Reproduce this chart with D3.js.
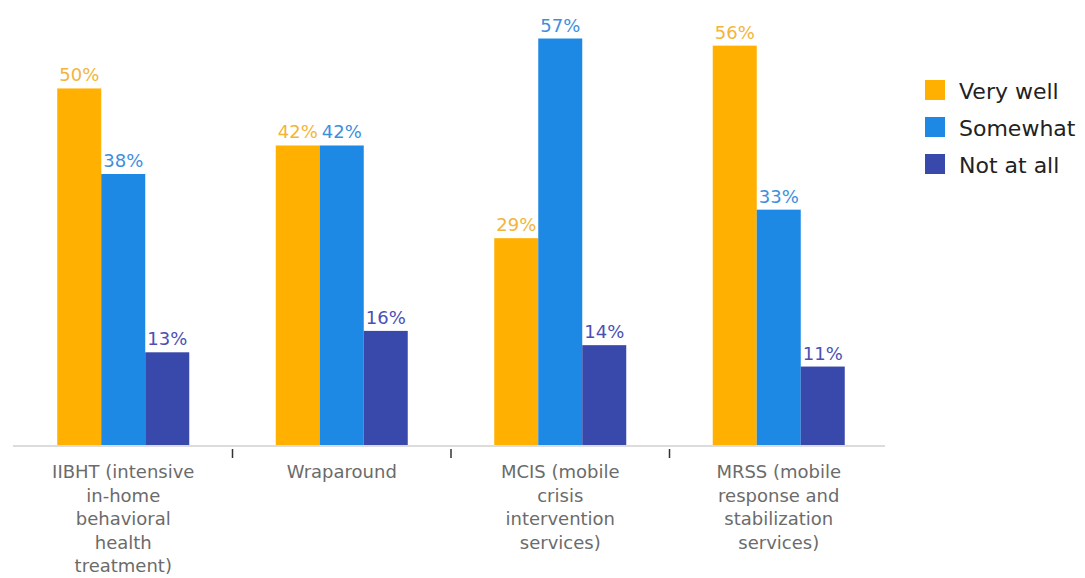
<!DOCTYPE html>
<html>
<head>
<meta charset="utf-8">
<script src="https://cdn.jsdelivr.net/npm/d3@7"></script>
<style>
  html, body { margin: 0; padding: 0; background: #fff; }
  svg { display: block; font-family: "DejaVu Sans", "Open Sans", sans-serif; }
</style>
</head>
<body>
<svg id="chart" width="1085" height="578"></svg>
<script>
// Service categories (each entry holds the wrapped lines of its axis label)
const categories = ["IIBHT", "Wraparound", "MCIS", "MRSS"];
const categoryLabels = [
  ["IIBHT (intensive", "in-home", "behavioral", "health", "treatment)"],
  ["Wraparound"],
  ["MCIS (mobile", "crisis", "intervention", "services)"],
  ["MRSS (mobile", "response and", "stabilization", "services)"]
];
const seriesNames = ["Very well", "Somewhat", "Not at all"];
const veryWell   = [50, 42, 29, 56];
const somewhat   = [38, 42, 57, 33];
const notAtAll   = [13, 16, 14, 11];
const seriesColors = ["#FFB000", "#1E88E5", "#3949AB"];
const labelColors  = ["#F2B53A", "#3D8FDD", "#4B4FB5"];

const seriesValues = [veryWell, somewhat, notAtAll];
const rows = categories.map((c, i) => ({
  key: c,
  values: seriesNames.map((s, j) => ({ series: s, idx: j, value: seriesValues[j][i] }))
}));

const svg = d3.select("#chart");
const baseline = 445;
const groupWidth = 132;

const x0 = d3.scaleBand()
  .domain(categories)
  .range([14, 888]);

const x1 = d3.scaleBand()
  .domain(seriesNames)
  .range([0, groupWidth]);

const y = d3.scaleLinear()
  .domain([0, 62.4])
  .range([baseline, 0]);

// Bars
const groups = svg.append("g")
  .selectAll("g")
  .data(rows)
  .join("g")
  .attr("transform", d => `translate(${x0(d.key) + (x0.bandwidth() - groupWidth) / 2},0)`);

groups.selectAll("rect")
  .data(d => d.values)
  .join("rect")
  .attr("x", d => x1(d.series))
  .attr("width", x1.bandwidth())
  .attr("y", d => y(d.value))
  .attr("height", d => baseline - y(d.value))
  .attr("fill", d => seriesColors[d.idx]);

// Value labels
groups.selectAll("text")
  .data(d => d.values)
  .join("text")
  .attr("x", d => x1(d.series) + x1.bandwidth() / 2)
  .attr("y", d => y(d.value) - 7)
  .attr("text-anchor", "middle")
  .attr("font-size", 18)
  .attr("fill", d => labelColors[d.idx])
  .text(d => d.value + "%");

// Baseline axis
svg.append("line")
  .attr("x1", 13).attr("x2", 885)
  .attr("y1", baseline + 1).attr("y2", baseline + 1)
  .attr("stroke", "#d0d0d0").attr("stroke-width", 1.5);

// Dividing ticks between categories
svg.append("g")
  .selectAll("line")
  .data(categories.slice(1))
  .join("line")
  .attr("x1", d => x0(d)).attr("x2", d => x0(d))
  .attr("y1", baseline + 4).attr("y2", baseline + 13)
  .attr("stroke", "#333").attr("stroke-width", 1.5);

// Category labels
const catText = svg.append("g")
  .selectAll("text")
  .data(categories)
  .join("text")
  .attr("text-anchor", "middle")
  .attr("font-size", 18)
  .attr("fill", "#6b6b6b");

catText.each(function(d, i) {
  const t = d3.select(this);
  categoryLabels[i].forEach((line, k) => {
    t.append("tspan")
      .attr("x", x0(d) + x0.bandwidth() / 2)
      .attr("y", baseline + 33 + k * 23.5)
      .text(line);
  });
});

// Legend
const legend = svg.append("g")
  .attr("transform", "translate(925,80)")
  .selectAll("g")
  .data(seriesNames)
  .join("g")
  .attr("transform", (d, i) => `translate(0,${i * 37})`);

legend.append("rect")
  .attr("width", 20).attr("height", 20)
  .attr("fill", (d, i) => seriesColors[i]);

legend.append("text")
  .attr("x", 34).attr("y", 19)
  .attr("font-size", 22)
  .attr("fill", "#222")
  .text(d => d);
</script>
</body>
</html>
